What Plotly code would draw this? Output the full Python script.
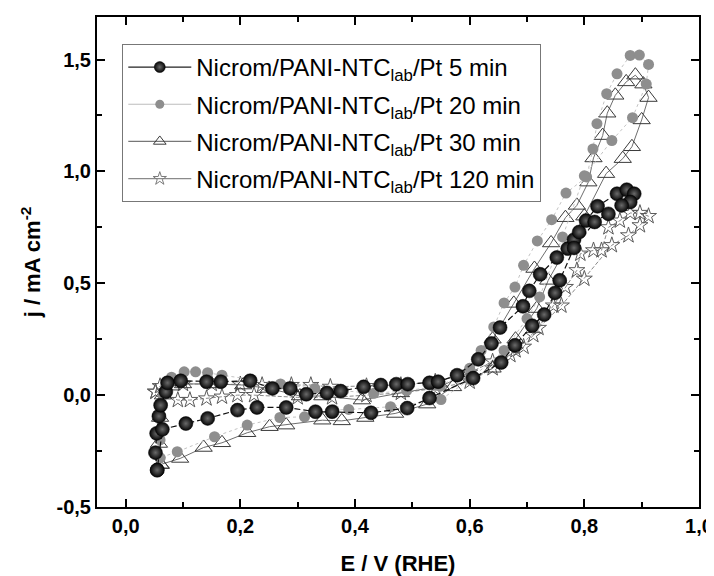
import plotly.graph_objects as go

# ---- data ----
E5 = [0.055, 0.052, 0.054, 0.058, 0.061, 0.070, 0.073, 0.096, 0.141, 0.166, 0.217, 0.256, 0.287, 0.315, 0.351,
      0.375, 0.415, 0.445, 0.472, 0.492, 0.530, 0.545, 0.578, 0.615, 0.638, 0.653, 0.693, 0.704, 0.723, 0.752,
      0.771, 0.782, 0.791, 0.803, 0.823, 0.857, 0.874, 0.887, 0.880, 0.865, 0.842, 0.818, 0.782, 0.757, 0.749,
      0.730, 0.709, 0.679, 0.655, 0.606, 0.530, 0.491, 0.428, 0.360, 0.331, 0.280, 0.229, 0.195, 0.143, 0.105,
      0.064, 0.055]
J5 = [-0.335, -0.257, -0.171, -0.094, -0.045, 0.015, 0.055, 0.064, 0.060, 0.060, 0.064, 0.030, 0.030, 0.004, 0.010,
      0.018, 0.037, 0.045, 0.049, 0.049, 0.055, 0.060, 0.089, 0.160, 0.231, 0.302, 0.397, 0.466, 0.540, 0.615,
      0.655, 0.695, 0.729, 0.780, 0.844, 0.900, 0.918, 0.900, 0.863, 0.848, 0.810, 0.774, 0.658, 0.513, 0.457,
      0.360, 0.310, 0.223, 0.146, 0.076, -0.013, -0.058, -0.079, -0.074, -0.074, -0.055, -0.055, -0.067, -0.104,
      -0.127, -0.153, -0.335]

E20 = [0.060, 0.060, 0.060, 0.065, 0.080, 0.102, 0.122, 0.143, 0.168, 0.220, 0.270, 0.330, 0.380, 0.433, 0.490,
       0.549, 0.600, 0.620, 0.642, 0.660, 0.679, 0.694, 0.718, 0.743, 0.768, 0.804, 0.815, 0.822, 0.839, 0.857,
       0.880, 0.896, 0.912, 0.908, 0.884, 0.848, 0.800, 0.762, 0.722, 0.700, 0.660, 0.600, 0.550, 0.462, 0.389,
       0.363, 0.312, 0.269, 0.212, 0.155, 0.090, 0.060]
J20 = [-0.280, -0.200, -0.100, 0.000, 0.080, 0.104, 0.104, 0.100, 0.089, 0.070, 0.050, 0.030, 0.020, 0.008, 0.020,
       0.040, 0.120, 0.200, 0.305, 0.412, 0.483, 0.580, 0.689, 0.784, 0.903, 0.975, 1.100, 1.213, 1.347, 1.436,
       1.518, 1.520, 1.478, 1.390, 1.240, 1.138, 0.980, 0.707, 0.439, 0.342, 0.200, 0.070, -0.020, -0.052, -0.064,
       -0.067, -0.097, -0.100, -0.134, -0.186, -0.253, -0.280]

E30 = [0.061, 0.058, 0.060, 0.065, 0.080, 0.100, 0.150, 0.205, 0.250, 0.304, 0.343, 0.412, 0.480, 0.550, 0.600,
       0.640, 0.677, 0.713, 0.742, 0.767, 0.787, 0.807, 0.816, 0.832, 0.840, 0.854, 0.873, 0.889, 0.903, 0.912,
       0.900, 0.883, 0.867, 0.838, 0.800, 0.737, 0.717, 0.680, 0.640, 0.571, 0.526, 0.470, 0.418, 0.377, 0.343,
       0.280, 0.251, 0.212, 0.168, 0.136, 0.095, 0.061]
J30 = [-0.310, -0.216, -0.100, 0.000, 0.040, 0.050, 0.050, 0.045, 0.030, -0.004, -0.004, -0.022, 0.010, 0.040, 0.100,
       0.250, 0.410, 0.566, 0.680, 0.793, 0.848, 0.952, 1.060, 1.160, 1.260, 1.340, 1.400, 1.430, 1.390, 1.330,
       1.230, 1.110, 1.057, 0.990, 0.800, 0.513, 0.387, 0.250, 0.120, 0.037, -0.040, -0.082, -0.100, -0.115, -0.112,
       -0.134, -0.141, -0.168, -0.213, -0.234, -0.283, -0.310]

E120 = [0.052, 0.060, 0.100, 0.150, 0.200, 0.238, 0.289, 0.323, 0.357, 0.420, 0.480, 0.540, 0.600, 0.640, 0.671,
        0.694, 0.711, 0.746, 0.767, 0.787, 0.793, 0.816, 0.830, 0.842, 0.862, 0.880, 0.897, 0.912, 0.897, 0.877,
        0.848, 0.800, 0.760, 0.720, 0.680, 0.640, 0.600, 0.540, 0.480, 0.420, 0.360, 0.300, 0.224, 0.195, 0.168,
        0.141, 0.112, 0.091, 0.052]
J120 = [0.015, 0.040, 0.050, 0.050, 0.048, 0.045, 0.045, 0.045, 0.037, 0.040, 0.045, 0.060, 0.100, 0.150, 0.179,
        0.216, 0.268, 0.400, 0.483, 0.558, 0.632, 0.647, 0.647, 0.750, 0.780, 0.814, 0.814, 0.800, 0.759, 0.714,
        0.670, 0.520, 0.400, 0.300, 0.200, 0.120, 0.060, 0.030, 0.010, 0.000, -0.010, -0.010, 0.000, 0.000, -0.007,
        -0.015, -0.022, -0.022, 0.015]

NAMES = ["Nicrom/PANI-NTC<sub>lab</sub>/Pt 5 min",
         "Nicrom/PANI-NTC<sub>lab</sub>/Pt 20 min",
         "Nicrom/PANI-NTC<sub>lab</sub>/Pt 30 min",
         "Nicrom/PANI-NTC<sub>lab</sub>/Pt 120 min"]

X_TICKS = [0.0, 0.2, 0.4, 0.6, 0.8, 1.0]
X_TICKTEXT = ["0,0", "0,2", "0,4", "0,6", "0,8", "1,0"]
Y_TICKS = [-0.5, 0.0, 0.5, 1.0, 1.5]
Y_TICKTEXT = ["-0,5", "0,0", "0,5", "1,0", "1,5"]

FONT = "Liberation Sans, Arial, sans-serif"

STYLES = [
    dict(line=dict(color="#111111", width=1.2, dash="6px,3px"),
         marker=dict(symbol="circle", size=14, color="#050505",
                     gradient=dict(type="radial", color="#6a6a6a"),
                     line=dict(width=0.5, color="#000000")),
         lmarker=dict(symbol="circle", size=11, color="#050505",
                      gradient=dict(type="radial", color="#6a6a6a"),
                      line=dict(width=0.5, color="#000000")),
         lline=dict(color="#222222", width=1.2)),
    dict(line=dict(color="#c4c4c4", width=1, dash="dot"),
         marker=dict(symbol="circle", size=11, color="#8e8e8e"),
         lmarker=dict(symbol="circle", size=9, color="#8e8e8e"),
         lline=dict(color="#bdbdbd", width=1.2)),
    dict(line=dict(color="#6e6e6e", width=1),
         marker=dict(symbol="triangle-up-open", size=15, color="#3a3a3a", line=dict(width=1, color="#3a3a3a")),
         lmarker=dict(symbol="triangle-up-open", size=11, color="#3a3a3a", line=dict(width=1, color="#3a3a3a")),
         lline=dict(color="#777777", width=1.2)),
    dict(line=dict(color="#8a8a8a", width=1, dash="4px,2px"),
         marker=dict(symbol="star-open", size=12, color="#5a5a5a", line=dict(width=1, color="#5a5a5a")),
         lmarker=dict(symbol="star-open", size=10, color="#7a7a7a", line=dict(width=1, color="#7a7a7a")),
         lline=dict(color="#8a8a8a", width=1.2)),
]

SERIES = [(E5, J5), (E20, J20), (E30, J30), (E120, J120)]

fig = go.Figure()

for i in [3, 2, 1, 0]:
    xs, ys = SERIES[i]
    fig.add_trace(go.Scatter(x=xs, y=ys, name=NAMES[i], mode="lines+markers",
                             line=STYLES[i]["line"], marker=STYLES[i]["marker"],
                             showlegend=False, legendgroup=f"g{i}"))

for i in range(4):
    fig.add_trace(go.Scatter(x=[None], y=[None], name=NAMES[i], mode="lines+markers",
                             line=STYLES[i]["lline"], marker=STYLES[i]["lmarker"],
                             showlegend=True, legendgroup=f"g{i}"))

axis_common = dict(
    showline=True, linecolor="black", linewidth=2, mirror="ticks",
    ticks="inside", ticklen=8, tickwidth=2, tickcolor="black",
    showgrid=False, zeroline=False, automargin=False,
    tickfont=dict(family=FONT, size=20, color="black", weight="bold"),
)

fig.update_xaxes(
    range=[-0.05, 1.0], tickvals=X_TICKS, ticktext=X_TICKTEXT,
    minor=dict(ticks="inside", ticklen=5, tickwidth=2, tickcolor="black", dtick=0.1, tick0=0),
    title=dict(text="<b>E / V (RHE)</b>", font=dict(family=FONT, size=22, color="black"), standoff=20),
    **axis_common)
fig.update_yaxes(
    range=[-0.5, 1.69], tickvals=Y_TICKS, ticktext=Y_TICKTEXT,
    minor=dict(ticks="inside", ticklen=5, tickwidth=2, tickcolor="black", dtick=0.25, tick0=0),
    title=dict(text="<b>j / mA cm<sup>-2</sup></b>", font=dict(family=FONT, size=22, color="black"), standoff=10),
    **axis_common)

# the page body adds an 8 px offset, so the figure is sized to fit the window
fig.update_layout(
    width=706, height=568,
    margin=dict(l=89, r=15, t=9, b=69),
    paper_bgcolor="white", plot_bgcolor="white",
    showlegend=True,
    legend=dict(
        x=0.042, y=0.945, xanchor="left", yanchor="top",
        bgcolor="white", bordercolor="#777777", borderwidth=1,
        font=dict(family=FONT, size=24, color="black"),
        traceorder="grouped", tracegroupgap=3, itemwidth=63,
    ),
)

fig.write_html("out.html")
